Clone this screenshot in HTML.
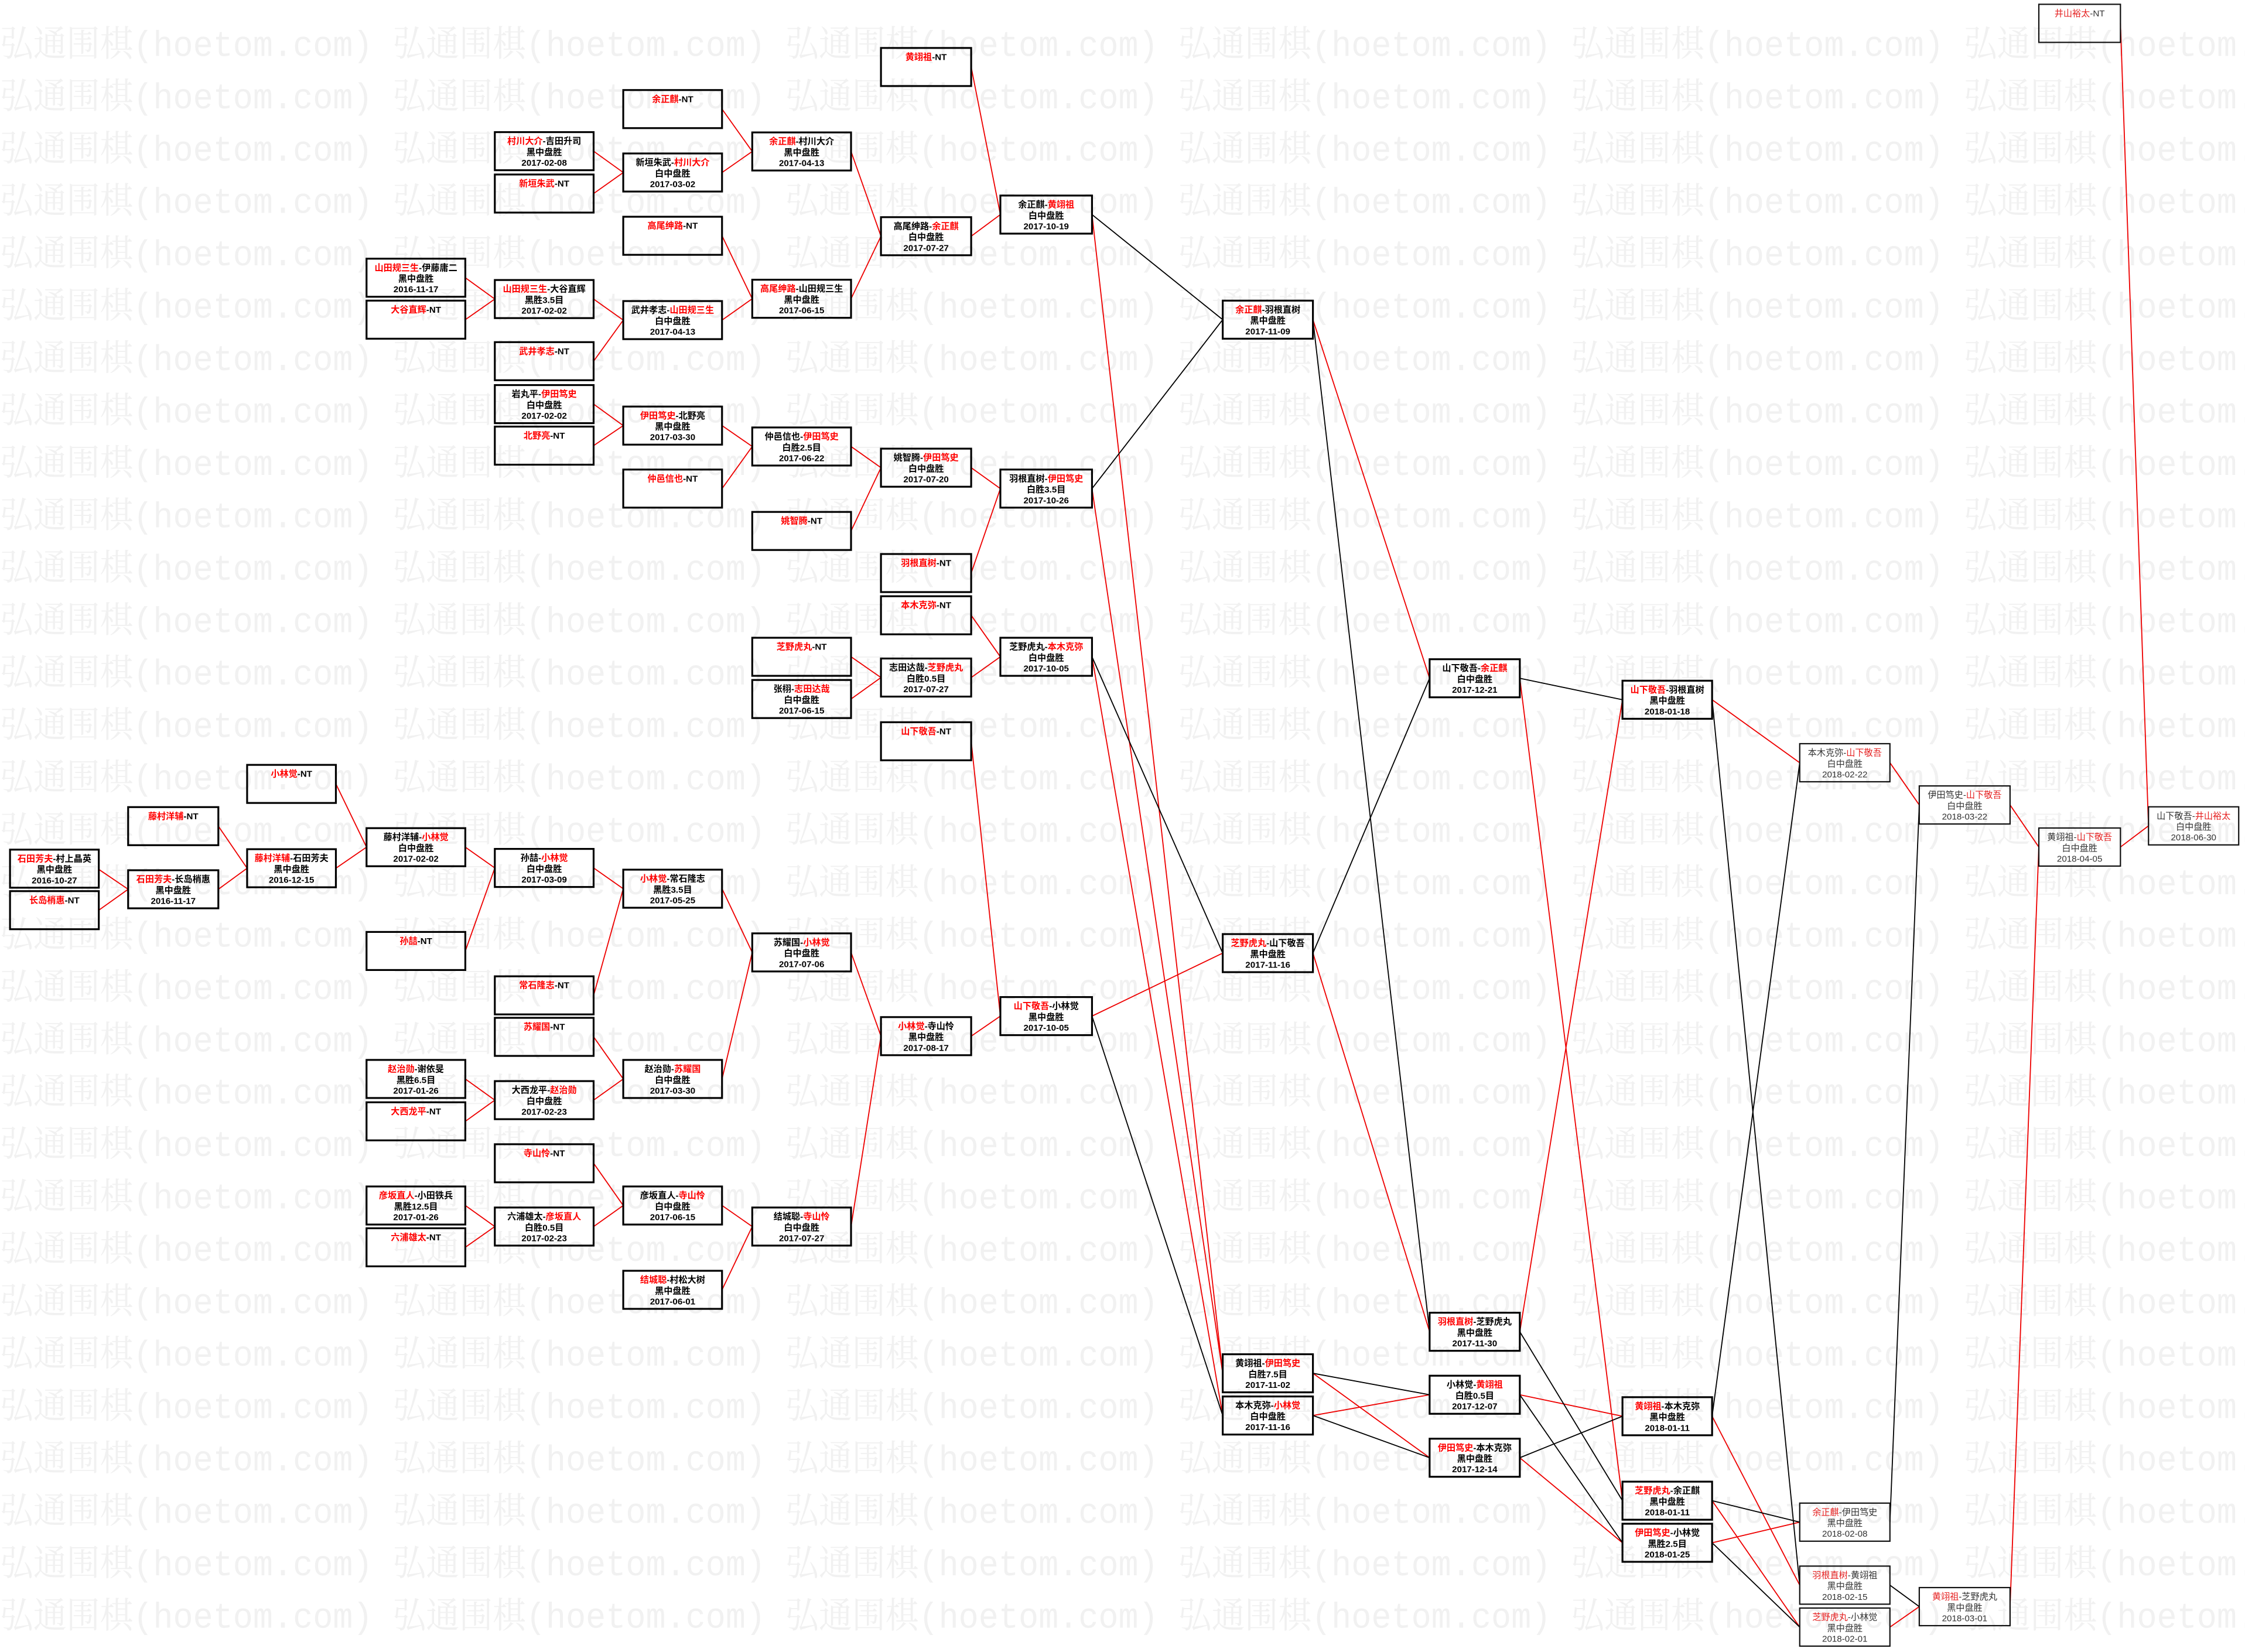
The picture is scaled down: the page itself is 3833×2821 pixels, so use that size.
<!DOCTYPE html>
<html><head><meta charset="utf-8"><style>
html,body{margin:0;padding:0;background:#fff;}
svg{display:block;}
.wm{font-family:"Liberation Mono","Noto Serif CJK SC",monospace;font-size:25px;fill:#f1f1f1;}
.b{fill:none;stroke:#000;stroke-width:1.3;}
.bt{fill:none;stroke:#111;stroke-width:0.9;}
.c{font-family:"Liberation Sans","Noto Sans CJK SC",sans-serif;font-size:6.2px;text-anchor:middle;fill:#000;font-weight:bold;}
.ct{font-family:"Liberation Sans","Noto Sans CJK SC",sans-serif;font-size:6.2px;text-anchor:middle;fill:#333;}
.r{fill:#f00;}
.ct .r{fill:#e52020;}
.lr{stroke:#e00;stroke-width:0.75;fill:none;}
.lb{stroke:#000;stroke-width:0.75;fill:none;}
</style></head><body>
<svg width="3833" height="2821" viewBox="0 0 1568 1154" preserveAspectRatio="none" xmlns="http://www.w3.org/2000/svg">
<rect width="1568" height="1154" fill="#fff"/>
<g class="wm">
<text x="0" y="39" textLength="1632" lengthAdjust="spacingAndGlyphs">弘通围棋(hoetom.com) 弘通围棋(hoetom.com) 弘通围棋(hoetom.com) 弘通围棋(hoetom.com) 弘通围棋(hoetom.com) 弘通围棋(hoetom.com) </text>
<text x="0" y="75.6" textLength="1632" lengthAdjust="spacingAndGlyphs">弘通围棋(hoetom.com) 弘通围棋(hoetom.com) 弘通围棋(hoetom.com) 弘通围棋(hoetom.com) 弘通围棋(hoetom.com) 弘通围棋(hoetom.com) </text>
<text x="0" y="112.2" textLength="1632" lengthAdjust="spacingAndGlyphs">弘通围棋(hoetom.com) 弘通围棋(hoetom.com) 弘通围棋(hoetom.com) 弘通围棋(hoetom.com) 弘通围棋(hoetom.com) 弘通围棋(hoetom.com) </text>
<text x="0" y="148.8" textLength="1632" lengthAdjust="spacingAndGlyphs">弘通围棋(hoetom.com) 弘通围棋(hoetom.com) 弘通围棋(hoetom.com) 弘通围棋(hoetom.com) 弘通围棋(hoetom.com) 弘通围棋(hoetom.com) </text>
<text x="0" y="185.4" textLength="1632" lengthAdjust="spacingAndGlyphs">弘通围棋(hoetom.com) 弘通围棋(hoetom.com) 弘通围棋(hoetom.com) 弘通围棋(hoetom.com) 弘通围棋(hoetom.com) 弘通围棋(hoetom.com) </text>
<text x="0" y="222" textLength="1632" lengthAdjust="spacingAndGlyphs">弘通围棋(hoetom.com) 弘通围棋(hoetom.com) 弘通围棋(hoetom.com) 弘通围棋(hoetom.com) 弘通围棋(hoetom.com) 弘通围棋(hoetom.com) </text>
<text x="0" y="258.6" textLength="1632" lengthAdjust="spacingAndGlyphs">弘通围棋(hoetom.com) 弘通围棋(hoetom.com) 弘通围棋(hoetom.com) 弘通围棋(hoetom.com) 弘通围棋(hoetom.com) 弘通围棋(hoetom.com) </text>
<text x="0" y="295.2" textLength="1632" lengthAdjust="spacingAndGlyphs">弘通围棋(hoetom.com) 弘通围棋(hoetom.com) 弘通围棋(hoetom.com) 弘通围棋(hoetom.com) 弘通围棋(hoetom.com) 弘通围棋(hoetom.com) </text>
<text x="0" y="331.8" textLength="1632" lengthAdjust="spacingAndGlyphs">弘通围棋(hoetom.com) 弘通围棋(hoetom.com) 弘通围棋(hoetom.com) 弘通围棋(hoetom.com) 弘通围棋(hoetom.com) 弘通围棋(hoetom.com) </text>
<text x="0" y="368.4" textLength="1632" lengthAdjust="spacingAndGlyphs">弘通围棋(hoetom.com) 弘通围棋(hoetom.com) 弘通围棋(hoetom.com) 弘通围棋(hoetom.com) 弘通围棋(hoetom.com) 弘通围棋(hoetom.com) </text>
<text x="0" y="405" textLength="1632" lengthAdjust="spacingAndGlyphs">弘通围棋(hoetom.com) 弘通围棋(hoetom.com) 弘通围棋(hoetom.com) 弘通围棋(hoetom.com) 弘通围棋(hoetom.com) 弘通围棋(hoetom.com) </text>
<text x="0" y="441.6" textLength="1632" lengthAdjust="spacingAndGlyphs">弘通围棋(hoetom.com) 弘通围棋(hoetom.com) 弘通围棋(hoetom.com) 弘通围棋(hoetom.com) 弘通围棋(hoetom.com) 弘通围棋(hoetom.com) </text>
<text x="0" y="478.2" textLength="1632" lengthAdjust="spacingAndGlyphs">弘通围棋(hoetom.com) 弘通围棋(hoetom.com) 弘通围棋(hoetom.com) 弘通围棋(hoetom.com) 弘通围棋(hoetom.com) 弘通围棋(hoetom.com) </text>
<text x="0" y="514.8" textLength="1632" lengthAdjust="spacingAndGlyphs">弘通围棋(hoetom.com) 弘通围棋(hoetom.com) 弘通围棋(hoetom.com) 弘通围棋(hoetom.com) 弘通围棋(hoetom.com) 弘通围棋(hoetom.com) </text>
<text x="0" y="551.4" textLength="1632" lengthAdjust="spacingAndGlyphs">弘通围棋(hoetom.com) 弘通围棋(hoetom.com) 弘通围棋(hoetom.com) 弘通围棋(hoetom.com) 弘通围棋(hoetom.com) 弘通围棋(hoetom.com) </text>
<text x="0" y="588" textLength="1632" lengthAdjust="spacingAndGlyphs">弘通围棋(hoetom.com) 弘通围棋(hoetom.com) 弘通围棋(hoetom.com) 弘通围棋(hoetom.com) 弘通围棋(hoetom.com) 弘通围棋(hoetom.com) </text>
<text x="0" y="624.6" textLength="1632" lengthAdjust="spacingAndGlyphs">弘通围棋(hoetom.com) 弘通围棋(hoetom.com) 弘通围棋(hoetom.com) 弘通围棋(hoetom.com) 弘通围棋(hoetom.com) 弘通围棋(hoetom.com) </text>
<text x="0" y="661.2" textLength="1632" lengthAdjust="spacingAndGlyphs">弘通围棋(hoetom.com) 弘通围棋(hoetom.com) 弘通围棋(hoetom.com) 弘通围棋(hoetom.com) 弘通围棋(hoetom.com) 弘通围棋(hoetom.com) </text>
<text x="0" y="697.8" textLength="1632" lengthAdjust="spacingAndGlyphs">弘通围棋(hoetom.com) 弘通围棋(hoetom.com) 弘通围棋(hoetom.com) 弘通围棋(hoetom.com) 弘通围棋(hoetom.com) 弘通围棋(hoetom.com) </text>
<text x="0" y="734.4" textLength="1632" lengthAdjust="spacingAndGlyphs">弘通围棋(hoetom.com) 弘通围棋(hoetom.com) 弘通围棋(hoetom.com) 弘通围棋(hoetom.com) 弘通围棋(hoetom.com) 弘通围棋(hoetom.com) </text>
<text x="0" y="771" textLength="1632" lengthAdjust="spacingAndGlyphs">弘通围棋(hoetom.com) 弘通围棋(hoetom.com) 弘通围棋(hoetom.com) 弘通围棋(hoetom.com) 弘通围棋(hoetom.com) 弘通围棋(hoetom.com) </text>
<text x="0" y="807.6" textLength="1632" lengthAdjust="spacingAndGlyphs">弘通围棋(hoetom.com) 弘通围棋(hoetom.com) 弘通围棋(hoetom.com) 弘通围棋(hoetom.com) 弘通围棋(hoetom.com) 弘通围棋(hoetom.com) </text>
<text x="0" y="844.2" textLength="1632" lengthAdjust="spacingAndGlyphs">弘通围棋(hoetom.com) 弘通围棋(hoetom.com) 弘通围棋(hoetom.com) 弘通围棋(hoetom.com) 弘通围棋(hoetom.com) 弘通围棋(hoetom.com) </text>
<text x="0" y="880.8" textLength="1632" lengthAdjust="spacingAndGlyphs">弘通围棋(hoetom.com) 弘通围棋(hoetom.com) 弘通围棋(hoetom.com) 弘通围棋(hoetom.com) 弘通围棋(hoetom.com) 弘通围棋(hoetom.com) </text>
<text x="0" y="917.4" textLength="1632" lengthAdjust="spacingAndGlyphs">弘通围棋(hoetom.com) 弘通围棋(hoetom.com) 弘通围棋(hoetom.com) 弘通围棋(hoetom.com) 弘通围棋(hoetom.com) 弘通围棋(hoetom.com) </text>
<text x="0" y="954" textLength="1632" lengthAdjust="spacingAndGlyphs">弘通围棋(hoetom.com) 弘通围棋(hoetom.com) 弘通围棋(hoetom.com) 弘通围棋(hoetom.com) 弘通围棋(hoetom.com) 弘通围棋(hoetom.com) </text>
<text x="0" y="990.6" textLength="1632" lengthAdjust="spacingAndGlyphs">弘通围棋(hoetom.com) 弘通围棋(hoetom.com) 弘通围棋(hoetom.com) 弘通围棋(hoetom.com) 弘通围棋(hoetom.com) 弘通围棋(hoetom.com) </text>
<text x="0" y="1027.2" textLength="1632" lengthAdjust="spacingAndGlyphs">弘通围棋(hoetom.com) 弘通围棋(hoetom.com) 弘通围棋(hoetom.com) 弘通围棋(hoetom.com) 弘通围棋(hoetom.com) 弘通围棋(hoetom.com) </text>
<text x="0" y="1063.8" textLength="1632" lengthAdjust="spacingAndGlyphs">弘通围棋(hoetom.com) 弘通围棋(hoetom.com) 弘通围棋(hoetom.com) 弘通围棋(hoetom.com) 弘通围棋(hoetom.com) 弘通围棋(hoetom.com) </text>
<text x="0" y="1100.4" textLength="1632" lengthAdjust="spacingAndGlyphs">弘通围棋(hoetom.com) 弘通围棋(hoetom.com) 弘通围棋(hoetom.com) 弘通围棋(hoetom.com) 弘通围棋(hoetom.com) 弘通围棋(hoetom.com) </text>
<text x="0" y="1137" textLength="1632" lengthAdjust="spacingAndGlyphs">弘通围棋(hoetom.com) 弘通围棋(hoetom.com) 弘通围棋(hoetom.com) 弘通围棋(hoetom.com) 弘通围棋(hoetom.com) 弘通围棋(hoetom.com) </text>
</g>

<g class="lr">
<line x1="69" y1="607.3" x2="89.5" y2="621.2"/>
<line x1="69" y1="635.8" x2="89.5" y2="621.2"/>
<line x1="152.5" y1="577.1" x2="172.6" y2="606.5"/>
<line x1="152.5" y1="621.2" x2="172.6" y2="606.5"/>
<line x1="234.6" y1="547.6" x2="256" y2="591.8"/>
<line x1="234.6" y1="606.5" x2="256" y2="591.8"/>
<line x1="325" y1="591.8" x2="345.6" y2="606.3"/>
<line x1="325" y1="664.3" x2="345.6" y2="606.3"/>
<line x1="414.6" y1="606.3" x2="435.3" y2="620.8"/>
<line x1="414.6" y1="695.3" x2="435.3" y2="620.8"/>
<line x1="325" y1="753.7" x2="345.6" y2="768.5"/>
<line x1="325" y1="783.3" x2="345.6" y2="768.5"/>
<line x1="414.6" y1="724.3" x2="435.3" y2="753.7"/>
<line x1="414.6" y1="768.5" x2="435.3" y2="753.7"/>
<line x1="504.3" y1="620.8" x2="525.4" y2="665.3"/>
<line x1="504.3" y1="753.7" x2="525.4" y2="665.3"/>
<line x1="325" y1="842.1" x2="345.6" y2="856.8"/>
<line x1="325" y1="871.3" x2="345.6" y2="856.8"/>
<line x1="414.6" y1="812.6" x2="435.3" y2="842.1"/>
<line x1="414.6" y1="856.8" x2="435.3" y2="842.1"/>
<line x1="504.3" y1="842.1" x2="525.4" y2="856.8"/>
<line x1="504.3" y1="901" x2="525.4" y2="856.8"/>
<line x1="594.4" y1="665.3" x2="615.3" y2="723.8"/>
<line x1="594.4" y1="856.8" x2="615.3" y2="723.8"/>
<line x1="325" y1="194" x2="345.6" y2="208.9"/>
<line x1="325" y1="223.3" x2="345.6" y2="208.9"/>
<line x1="414.6" y1="208.9" x2="435.3" y2="223.6"/>
<line x1="414.6" y1="252.3" x2="435.3" y2="223.6"/>
<line x1="504.3" y1="164.7" x2="525.4" y2="208.7"/>
<line x1="504.3" y1="223.6" x2="525.4" y2="208.7"/>
<line x1="414.6" y1="105.6" x2="435.3" y2="120.5"/>
<line x1="414.6" y1="135.2" x2="435.3" y2="120.5"/>
<line x1="504.3" y1="76.2" x2="525.4" y2="105.8"/>
<line x1="504.3" y1="120.5" x2="525.4" y2="105.8"/>
<line x1="594.4" y1="105.8" x2="615.3" y2="165"/>
<line x1="594.4" y1="208.7" x2="615.3" y2="165"/>
<line x1="414.6" y1="282.3" x2="435.3" y2="297.3"/>
<line x1="414.6" y1="311.3" x2="435.3" y2="297.3"/>
<line x1="504.3" y1="297.3" x2="525.4" y2="311.9"/>
<line x1="504.3" y1="341.3" x2="525.4" y2="311.9"/>
<line x1="594.4" y1="311.9" x2="615.3" y2="326.7"/>
<line x1="594.4" y1="370.9" x2="615.3" y2="326.7"/>
<line x1="594.4" y1="458.8" x2="615.3" y2="473.3"/>
<line x1="594.4" y1="488.3" x2="615.3" y2="473.3"/>
<line x1="678.3" y1="46.8" x2="698.7" y2="149.9"/>
<line x1="678.3" y1="165" x2="698.7" y2="149.9"/>
<line x1="678.3" y1="326.7" x2="698.7" y2="341.3"/>
<line x1="678.3" y1="400.3" x2="698.7" y2="341.3"/>
<line x1="678.3" y1="429.8" x2="698.7" y2="458.8"/>
<line x1="678.3" y1="473.3" x2="698.7" y2="458.8"/>
<line x1="678.3" y1="517.8" x2="698.7" y2="709.8"/>
<line x1="678.3" y1="723.8" x2="698.7" y2="709.8"/>
<line x1="762.7" y1="149.9" x2="854" y2="959.3"/>
<line x1="762.7" y1="341.3" x2="854" y2="959.3"/>
<line x1="762.7" y1="458.8" x2="854" y2="988.8"/>
<line x1="762.7" y1="709.8" x2="854" y2="665.8"/>
<line x1="917" y1="223.3" x2="998.5" y2="473.8"/>
<line x1="917" y1="665.8" x2="998.5" y2="930.3"/>
<line x1="917" y1="959.3" x2="998.5" y2="1018.3"/>
<line x1="917" y1="988.8" x2="998.5" y2="974.3"/>
<line x1="1061.5" y1="473.8" x2="1133.2" y2="1048.3"/>
<line x1="1061.5" y1="930.3" x2="1133.2" y2="488.8"/>
<line x1="1061.5" y1="974.3" x2="1133.2" y2="989.3"/>
<line x1="1061.5" y1="1018.3" x2="1133.2" y2="1077.7"/>
<line x1="1195.8" y1="488.8" x2="1257" y2="532.8"/>
<line x1="1195.8" y1="989.3" x2="1257" y2="1107.3"/>
<line x1="1195.8" y1="1048.3" x2="1257" y2="1136.6"/>
<line x1="1195.8" y1="1077.7" x2="1257" y2="1063.3"/>
<line x1="1320" y1="532.8" x2="1340.5" y2="562.3"/>
<line x1="1320" y1="1136.6" x2="1340.5" y2="1122.3"/>
<line x1="1403.9" y1="562.3" x2="1424" y2="591.7"/>
<line x1="1403.9" y1="1122.3" x2="1424" y2="591.7"/>
<line x1="1481" y1="591.7" x2="1500.6" y2="576.9"/>
<line x1="1481" y1="16.3" x2="1500.6" y2="576.9"/>
</g>
<g class="lb">
<line x1="762.7" y1="149.9" x2="854" y2="223.3"/>
<line x1="762.7" y1="341.3" x2="854" y2="223.3"/>
<line x1="762.7" y1="458.8" x2="854" y2="665.8"/>
<line x1="762.7" y1="709.8" x2="854" y2="988.8"/>
<line x1="917" y1="223.3" x2="998.5" y2="930.3"/>
<line x1="917" y1="665.8" x2="998.5" y2="473.8"/>
<line x1="917" y1="959.3" x2="998.5" y2="974.3"/>
<line x1="917" y1="988.8" x2="998.5" y2="1018.3"/>
<line x1="1061.5" y1="473.8" x2="1133.2" y2="488.8"/>
<line x1="1061.5" y1="930.3" x2="1133.2" y2="1048.3"/>
<line x1="1061.5" y1="974.3" x2="1133.2" y2="1077.7"/>
<line x1="1061.5" y1="1018.3" x2="1133.2" y2="989.3"/>
<line x1="1195.8" y1="488.8" x2="1257" y2="1107.3"/>
<line x1="1195.8" y1="989.3" x2="1257" y2="532.8"/>
<line x1="1195.8" y1="1048.3" x2="1257" y2="1063.3"/>
<line x1="1195.8" y1="1077.7" x2="1257" y2="1136.6"/>
<line x1="1320" y1="1063.3" x2="1340.5" y2="562.3"/>
<line x1="1320" y1="1107.3" x2="1340.5" y2="1122.3"/>
</g>

<g>
<rect class="b" x="7" y="593.5" width="62" height="26.6"/>
<text class="c" x="38" y="601.9"><tspan class="r">石田芳夫</tspan>-村上晶英</text><text class="c" x="38" y="609.6">黑中盘胜</text><text class="c" x="38" y="617">2016-10-27</text>
<rect class="b" x="7" y="622.5" width="62" height="26.6"/>
<text class="c" x="38" y="630.9"><tspan class="r">长岛梢惠</tspan>-NT</text>
<rect class="b" x="89.5" y="563.8" width="63" height="26.6"/>
<text class="c" x="121" y="572.2"><tspan class="r">藤村洋辅</tspan>-NT</text>
<rect class="b" x="89.5" y="607.9" width="63" height="26.6"/>
<text class="c" x="121" y="616.3"><tspan class="r">石田芳夫</tspan>-长岛梢惠</text><text class="c" x="121" y="624">黑中盘胜</text><text class="c" x="121" y="631.4">2016-11-17</text>
<rect class="b" x="172.6" y="534.3" width="62" height="26.6"/>
<text class="c" x="203.6" y="542.7"><tspan class="r">小林觉</tspan>-NT</text>
<rect class="b" x="172.6" y="593.2" width="62" height="26.6"/>
<text class="c" x="203.6" y="601.6"><tspan class="r">藤村洋辅</tspan>-石田芳夫</text><text class="c" x="203.6" y="609.3">黑中盘胜</text><text class="c" x="203.6" y="616.7">2016-12-15</text>
<rect class="b" x="256" y="180.7" width="69" height="26.6"/>
<text class="c" x="290.5" y="189.1"><tspan class="r">山田规三生</tspan>-伊藤庸二</text><text class="c" x="290.5" y="196.8">黑中盘胜</text><text class="c" x="290.5" y="204.2">2016-11-17</text>
<rect class="b" x="256" y="210" width="69" height="26.6"/>
<text class="c" x="290.5" y="218.4"><tspan class="r">大谷直辉</tspan>-NT</text>
<rect class="b" x="256" y="578.5" width="69" height="26.6"/>
<text class="c" x="290.5" y="586.9">藤村洋辅-<tspan class="r">小林觉</tspan></text><text class="c" x="290.5" y="594.6">白中盘胜</text><text class="c" x="290.5" y="602">2017-02-02</text>
<rect class="b" x="256" y="651" width="69" height="26.6"/>
<text class="c" x="290.5" y="659.4"><tspan class="r">孙喆</tspan>-NT</text>
<rect class="b" x="256" y="740.4" width="69" height="26.6"/>
<text class="c" x="290.5" y="748.8"><tspan class="r">赵治勋</tspan>-谢依旻</text><text class="c" x="290.5" y="756.5">黑胜6.5目</text><text class="c" x="290.5" y="763.9">2017-01-26</text>
<rect class="b" x="256" y="770" width="69" height="26.6"/>
<text class="c" x="290.5" y="778.4"><tspan class="r">大西龙平</tspan>-NT</text>
<rect class="b" x="256" y="828.8" width="69" height="26.6"/>
<text class="c" x="290.5" y="837.2"><tspan class="r">彦坂直人</tspan>-小田铁兵</text><text class="c" x="290.5" y="844.9">黑胜12.5目</text><text class="c" x="290.5" y="852.3">2017-01-26</text>
<rect class="b" x="256" y="858" width="69" height="26.6"/>
<text class="c" x="290.5" y="866.4"><tspan class="r">六浦雄太</tspan>-NT</text>
<rect class="b" x="345.6" y="92.3" width="69" height="26.6"/>
<text class="c" x="380.1" y="100.7"><tspan class="r">村川大介</tspan>-吉田升司</text><text class="c" x="380.1" y="108.4">黑中盘胜</text><text class="c" x="380.1" y="115.8">2017-02-08</text>
<rect class="b" x="345.6" y="121.9" width="69" height="26.6"/>
<text class="c" x="380.1" y="130.3"><tspan class="r">新垣朱武</tspan>-NT</text>
<rect class="b" x="345.6" y="195.6" width="69" height="26.6"/>
<text class="c" x="380.1" y="204"><tspan class="r">山田规三生</tspan>-大谷直辉</text><text class="c" x="380.1" y="211.7">黑胜3.5目</text><text class="c" x="380.1" y="219.1">2017-02-02</text>
<rect class="b" x="345.6" y="239" width="69" height="26.6"/>
<text class="c" x="380.1" y="247.4"><tspan class="r">武井孝志</tspan>-NT</text>
<rect class="b" x="345.6" y="269" width="69" height="26.6"/>
<text class="c" x="380.1" y="277.4">岩丸平-<tspan class="r">伊田笃史</tspan></text><text class="c" x="380.1" y="285.1">白中盘胜</text><text class="c" x="380.1" y="292.5">2017-02-02</text>
<rect class="b" x="345.6" y="298" width="69" height="26.6"/>
<text class="c" x="380.1" y="306.4"><tspan class="r">北野亮</tspan>-NT</text>
<rect class="b" x="345.6" y="593" width="69" height="26.6"/>
<text class="c" x="380.1" y="601.4">孙喆-<tspan class="r">小林觉</tspan></text><text class="c" x="380.1" y="609.1">白中盘胜</text><text class="c" x="380.1" y="616.5">2017-03-09</text>
<rect class="b" x="345.6" y="682" width="69" height="26.6"/>
<text class="c" x="380.1" y="690.4"><tspan class="r">常石隆志</tspan>-NT</text>
<rect class="b" x="345.6" y="711" width="69" height="26.6"/>
<text class="c" x="380.1" y="719.4"><tspan class="r">苏耀国</tspan>-NT</text>
<rect class="b" x="345.6" y="755.2" width="69" height="26.6"/>
<text class="c" x="380.1" y="763.6">大西龙平-<tspan class="r">赵治勋</tspan></text><text class="c" x="380.1" y="771.3">白中盘胜</text><text class="c" x="380.1" y="778.7">2017-02-23</text>
<rect class="b" x="345.6" y="799.3" width="69" height="26.6"/>
<text class="c" x="380.1" y="807.7"><tspan class="r">寺山怜</tspan>-NT</text>
<rect class="b" x="345.6" y="843.5" width="69" height="26.6"/>
<text class="c" x="380.1" y="851.9">六浦雄太-<tspan class="r">彦坂直人</tspan></text><text class="c" x="380.1" y="859.6">白胜0.5目</text><text class="c" x="380.1" y="867">2017-02-23</text>
<rect class="b" x="435.3" y="62.9" width="69" height="26.6"/>
<text class="c" x="469.8" y="71.3"><tspan class="r">余正麒</tspan>-NT</text>
<rect class="b" x="435.3" y="107.2" width="69" height="26.6"/>
<text class="c" x="469.8" y="115.6">新垣朱武-<tspan class="r">村川大介</tspan></text><text class="c" x="469.8" y="123.3">白中盘胜</text><text class="c" x="469.8" y="130.7">2017-03-02</text>
<rect class="b" x="435.3" y="151.4" width="69" height="26.6"/>
<text class="c" x="469.8" y="159.8"><tspan class="r">高尾绅路</tspan>-NT</text>
<rect class="b" x="435.3" y="210.3" width="69" height="26.6"/>
<text class="c" x="469.8" y="218.7">武井孝志-<tspan class="r">山田规三生</tspan></text><text class="c" x="469.8" y="226.4">白中盘胜</text><text class="c" x="469.8" y="233.8">2017-04-13</text>
<rect class="b" x="435.3" y="284" width="69" height="26.6"/>
<text class="c" x="469.8" y="292.4"><tspan class="r">伊田笃史</tspan>-北野亮</text><text class="c" x="469.8" y="300.1">黑中盘胜</text><text class="c" x="469.8" y="307.5">2017-03-30</text>
<rect class="b" x="435.3" y="328" width="69" height="26.6"/>
<text class="c" x="469.8" y="336.4"><tspan class="r">仲邑信也</tspan>-NT</text>
<rect class="b" x="435.3" y="607.5" width="69" height="26.6"/>
<text class="c" x="469.8" y="615.9"><tspan class="r">小林觉</tspan>-常石隆志</text><text class="c" x="469.8" y="623.6">黑胜3.5目</text><text class="c" x="469.8" y="631">2017-05-25</text>
<rect class="b" x="435.3" y="740.4" width="69" height="26.6"/>
<text class="c" x="469.8" y="748.8">赵治勋-<tspan class="r">苏耀国</tspan></text><text class="c" x="469.8" y="756.5">白中盘胜</text><text class="c" x="469.8" y="763.9">2017-03-30</text>
<rect class="b" x="435.3" y="828.8" width="69" height="26.6"/>
<text class="c" x="469.8" y="837.2">彦坂直人-<tspan class="r">寺山怜</tspan></text><text class="c" x="469.8" y="844.9">白中盘胜</text><text class="c" x="469.8" y="852.3">2017-06-15</text>
<rect class="b" x="435.3" y="887.7" width="69" height="26.6"/>
<text class="c" x="469.8" y="896.1"><tspan class="r">结城聪</tspan>-村松大树</text><text class="c" x="469.8" y="903.8">黑中盘胜</text><text class="c" x="469.8" y="911.2">2017-06-01</text>
<rect class="b" x="525.4" y="92.5" width="69" height="26.6"/>
<text class="c" x="559.9" y="100.9"><tspan class="r">余正麒</tspan>-村川大介</text><text class="c" x="559.9" y="108.6">黑中盘胜</text><text class="c" x="559.9" y="116">2017-04-13</text>
<rect class="b" x="525.4" y="195.4" width="69" height="26.6"/>
<text class="c" x="559.9" y="203.8"><tspan class="r">高尾绅路</tspan>-山田规三生</text><text class="c" x="559.9" y="211.5">黑中盘胜</text><text class="c" x="559.9" y="218.9">2017-06-15</text>
<rect class="b" x="525.4" y="298.6" width="69" height="26.6"/>
<text class="c" x="559.9" y="307">仲邑信也-<tspan class="r">伊田笃史</tspan></text><text class="c" x="559.9" y="314.7">白胜2.5目</text><text class="c" x="559.9" y="322.1">2017-06-22</text>
<rect class="b" x="525.4" y="357.6" width="69" height="26.6"/>
<text class="c" x="559.9" y="366"><tspan class="r">姚智腾</tspan>-NT</text>
<rect class="b" x="525.4" y="445.5" width="69" height="26.6"/>
<text class="c" x="559.9" y="453.9"><tspan class="r">芝野虎丸</tspan>-NT</text>
<rect class="b" x="525.4" y="475" width="69" height="26.6"/>
<text class="c" x="559.9" y="483.4">张栩-<tspan class="r">志田达哉</tspan></text><text class="c" x="559.9" y="491.1">白中盘胜</text><text class="c" x="559.9" y="498.5">2017-06-15</text>
<rect class="b" x="525.4" y="652" width="69" height="26.6"/>
<text class="c" x="559.9" y="660.4">苏耀国-<tspan class="r">小林觉</tspan></text><text class="c" x="559.9" y="668.1">白中盘胜</text><text class="c" x="559.9" y="675.5">2017-07-06</text>
<rect class="b" x="525.4" y="843.5" width="69" height="26.6"/>
<text class="c" x="559.9" y="851.9">结城聪-<tspan class="r">寺山怜</tspan></text><text class="c" x="559.9" y="859.6">白中盘胜</text><text class="c" x="559.9" y="867">2017-07-27</text>
<rect class="b" x="615.3" y="33.5" width="63" height="26.6"/>
<text class="c" x="646.8" y="41.9"><tspan class="r">黄翊祖</tspan>-NT</text>
<rect class="b" x="615.3" y="151.7" width="63" height="26.6"/>
<text class="c" x="646.8" y="160.1">高尾绅路-<tspan class="r">余正麒</tspan></text><text class="c" x="646.8" y="167.8">白中盘胜</text><text class="c" x="646.8" y="175.2">2017-07-27</text>
<rect class="b" x="615.3" y="313.4" width="63" height="26.6"/>
<text class="c" x="646.8" y="321.8">姚智腾-<tspan class="r">伊田笃史</tspan></text><text class="c" x="646.8" y="329.5">白中盘胜</text><text class="c" x="646.8" y="336.9">2017-07-20</text>
<rect class="b" x="615.3" y="387" width="63" height="26.6"/>
<text class="c" x="646.8" y="395.4"><tspan class="r">羽根直树</tspan>-NT</text>
<rect class="b" x="615.3" y="416.5" width="63" height="26.6"/>
<text class="c" x="646.8" y="424.9"><tspan class="r">本木克弥</tspan>-NT</text>
<rect class="b" x="615.3" y="460" width="63" height="26.6"/>
<text class="c" x="646.8" y="468.4">志田达哉-<tspan class="r">芝野虎丸</tspan></text><text class="c" x="646.8" y="476.1">白胜0.5目</text><text class="c" x="646.8" y="483.5">2017-07-27</text>
<rect class="b" x="615.3" y="504.5" width="63" height="26.6"/>
<text class="c" x="646.8" y="512.9"><tspan class="r">山下敬吾</tspan>-NT</text>
<rect class="b" x="615.3" y="710.5" width="63" height="26.6"/>
<text class="c" x="646.8" y="718.9"><tspan class="r">小林觉</tspan>-寺山怜</text><text class="c" x="646.8" y="726.6">黑中盘胜</text><text class="c" x="646.8" y="734">2017-08-17</text>
<rect class="b" x="698.7" y="136.6" width="64" height="26.6"/>
<text class="c" x="730.7" y="145">余正麒-<tspan class="r">黄翊祖</tspan></text><text class="c" x="730.7" y="152.7">白中盘胜</text><text class="c" x="730.7" y="160.1">2017-10-19</text>
<rect class="b" x="698.7" y="328" width="64" height="26.6"/>
<text class="c" x="730.7" y="336.4">羽根直树-<tspan class="r">伊田笃史</tspan></text><text class="c" x="730.7" y="344.1">白胜3.5目</text><text class="c" x="730.7" y="351.5">2017-10-26</text>
<rect class="b" x="698.7" y="445.5" width="64" height="26.6"/>
<text class="c" x="730.7" y="453.9">芝野虎丸-<tspan class="r">本木克弥</tspan></text><text class="c" x="730.7" y="461.6">白中盘胜</text><text class="c" x="730.7" y="469">2017-10-05</text>
<rect class="b" x="698.7" y="696.5" width="64" height="26.6"/>
<text class="c" x="730.7" y="704.9"><tspan class="r">山下敬吾</tspan>-小林觉</text><text class="c" x="730.7" y="712.6">黑中盘胜</text><text class="c" x="730.7" y="720">2017-10-05</text>
<rect class="b" x="854" y="210" width="63" height="26.6"/>
<text class="c" x="885.5" y="218.4"><tspan class="r">余正麒</tspan>-羽根直树</text><text class="c" x="885.5" y="226.1">黑中盘胜</text><text class="c" x="885.5" y="233.5">2017-11-09</text>
<rect class="b" x="854" y="652.5" width="63" height="26.6"/>
<text class="c" x="885.5" y="660.9"><tspan class="r">芝野虎丸</tspan>-山下敬吾</text><text class="c" x="885.5" y="668.6">黑中盘胜</text><text class="c" x="885.5" y="676">2017-11-16</text>
<rect class="b" x="854" y="946" width="63" height="26.6"/>
<text class="c" x="885.5" y="954.4">黄翊祖-<tspan class="r">伊田笃史</tspan></text><text class="c" x="885.5" y="962.1">白胜7.5目</text><text class="c" x="885.5" y="969.5">2017-11-02</text>
<rect class="b" x="854" y="975.5" width="63" height="26.6"/>
<text class="c" x="885.5" y="983.9">本木克弥-<tspan class="r">小林觉</tspan></text><text class="c" x="885.5" y="991.6">白中盘胜</text><text class="c" x="885.5" y="999">2017-11-16</text>
<rect class="b" x="998.5" y="460.5" width="63" height="26.6"/>
<text class="c" x="1030" y="468.9">山下敬吾-<tspan class="r">余正麒</tspan></text><text class="c" x="1030" y="476.6">白中盘胜</text><text class="c" x="1030" y="484">2017-12-21</text>
<rect class="b" x="998.5" y="917" width="63" height="26.6"/>
<text class="c" x="1030" y="925.4"><tspan class="r">羽根直树</tspan>-芝野虎丸</text><text class="c" x="1030" y="933.1">黑中盘胜</text><text class="c" x="1030" y="940.5">2017-11-30</text>
<rect class="b" x="998.5" y="961" width="63" height="26.6"/>
<text class="c" x="1030" y="969.4">小林觉-<tspan class="r">黄翊祖</tspan></text><text class="c" x="1030" y="977.1">白胜0.5目</text><text class="c" x="1030" y="984.5">2017-12-07</text>
<rect class="b" x="998.5" y="1005" width="63" height="26.6"/>
<text class="c" x="1030" y="1013.4"><tspan class="r">伊田笃史</tspan>-本木克弥</text><text class="c" x="1030" y="1021.1">黑中盘胜</text><text class="c" x="1030" y="1028.5">2017-12-14</text>
<rect class="b" x="1133.2" y="475.5" width="62.6" height="26.6"/>
<text class="c" x="1164.5" y="483.9"><tspan class="r">山下敬吾</tspan>-羽根直树</text><text class="c" x="1164.5" y="491.6">黑中盘胜</text><text class="c" x="1164.5" y="499">2018-01-18</text>
<rect class="b" x="1133.2" y="976" width="62.6" height="26.6"/>
<text class="c" x="1164.5" y="984.4"><tspan class="r">黄翊祖</tspan>-本木克弥</text><text class="c" x="1164.5" y="992.1">黑中盘胜</text><text class="c" x="1164.5" y="999.5">2018-01-11</text>
<rect class="b" x="1133.2" y="1035" width="62.6" height="26.6"/>
<text class="c" x="1164.5" y="1043.4"><tspan class="r">芝野虎丸</tspan>-余正麒</text><text class="c" x="1164.5" y="1051.1">黑中盘胜</text><text class="c" x="1164.5" y="1058.5">2018-01-11</text>
<rect class="b" x="1133.2" y="1064.4" width="62.6" height="26.6"/>
<text class="c" x="1164.5" y="1072.8"><tspan class="r">伊田笃史</tspan>-小林觉</text><text class="c" x="1164.5" y="1080.5">黑胜2.5目</text><text class="c" x="1164.5" y="1087.9">2018-01-25</text>
<rect class="bt" x="1257" y="519.5" width="63" height="26.6"/>
<text class="ct" x="1288.5" y="527.9">本木克弥-<tspan class="r">山下敬吾</tspan></text><text class="ct" x="1288.5" y="535.6">白中盘胜</text><text class="ct" x="1288.5" y="543">2018-02-22</text>
<rect class="bt" x="1257" y="1050" width="63" height="26.6"/>
<text class="ct" x="1288.5" y="1058.4"><tspan class="r">余正麒</tspan>-伊田笃史</text><text class="ct" x="1288.5" y="1066.1">黑中盘胜</text><text class="ct" x="1288.5" y="1073.5">2018-02-08</text>
<rect class="bt" x="1257" y="1094" width="63" height="26.6"/>
<text class="ct" x="1288.5" y="1102.4"><tspan class="r">羽根直树</tspan>-黄翊祖</text><text class="ct" x="1288.5" y="1110.1">黑中盘胜</text><text class="ct" x="1288.5" y="1117.5">2018-02-15</text>
<rect class="bt" x="1257" y="1123.3" width="63" height="26.6"/>
<text class="ct" x="1288.5" y="1131.7"><tspan class="r">芝野虎丸</tspan>-小林觉</text><text class="ct" x="1288.5" y="1139.4">黑中盘胜</text><text class="ct" x="1288.5" y="1146.8">2018-02-01</text>
<rect class="bt" x="1340.5" y="549" width="63.4" height="26.6"/>
<text class="ct" x="1372.2" y="557.4">伊田笃史-<tspan class="r">山下敬吾</tspan></text><text class="ct" x="1372.2" y="565.1">白中盘胜</text><text class="ct" x="1372.2" y="572.5">2018-03-22</text>
<rect class="bt" x="1340.5" y="1109" width="63.4" height="26.6"/>
<text class="ct" x="1372.2" y="1117.4"><tspan class="r">黄翊祖</tspan>-芝野虎丸</text><text class="ct" x="1372.2" y="1125.1">黑中盘胜</text><text class="ct" x="1372.2" y="1132.5">2018-03-01</text>
<rect class="bt" x="1424" y="3" width="57" height="26.6"/>
<text class="ct" x="1452.5" y="11.4"><tspan class="r">井山裕太</tspan>-NT</text>
<rect class="bt" x="1424" y="578.4" width="57" height="26.6"/>
<text class="ct" x="1452.5" y="586.8">黄翊祖-<tspan class="r">山下敬吾</tspan></text><text class="ct" x="1452.5" y="594.5">白中盘胜</text><text class="ct" x="1452.5" y="601.9">2018-04-05</text>
<rect class="bt" x="1500.6" y="563.6" width="63" height="26.6"/>
<text class="ct" x="1532.1" y="572">山下敬吾-<tspan class="r">井山裕太</tspan></text><text class="ct" x="1532.1" y="579.7">白中盘胜</text><text class="ct" x="1532.1" y="587.1">2018-06-30</text>
</g>
</svg>
</body></html>
